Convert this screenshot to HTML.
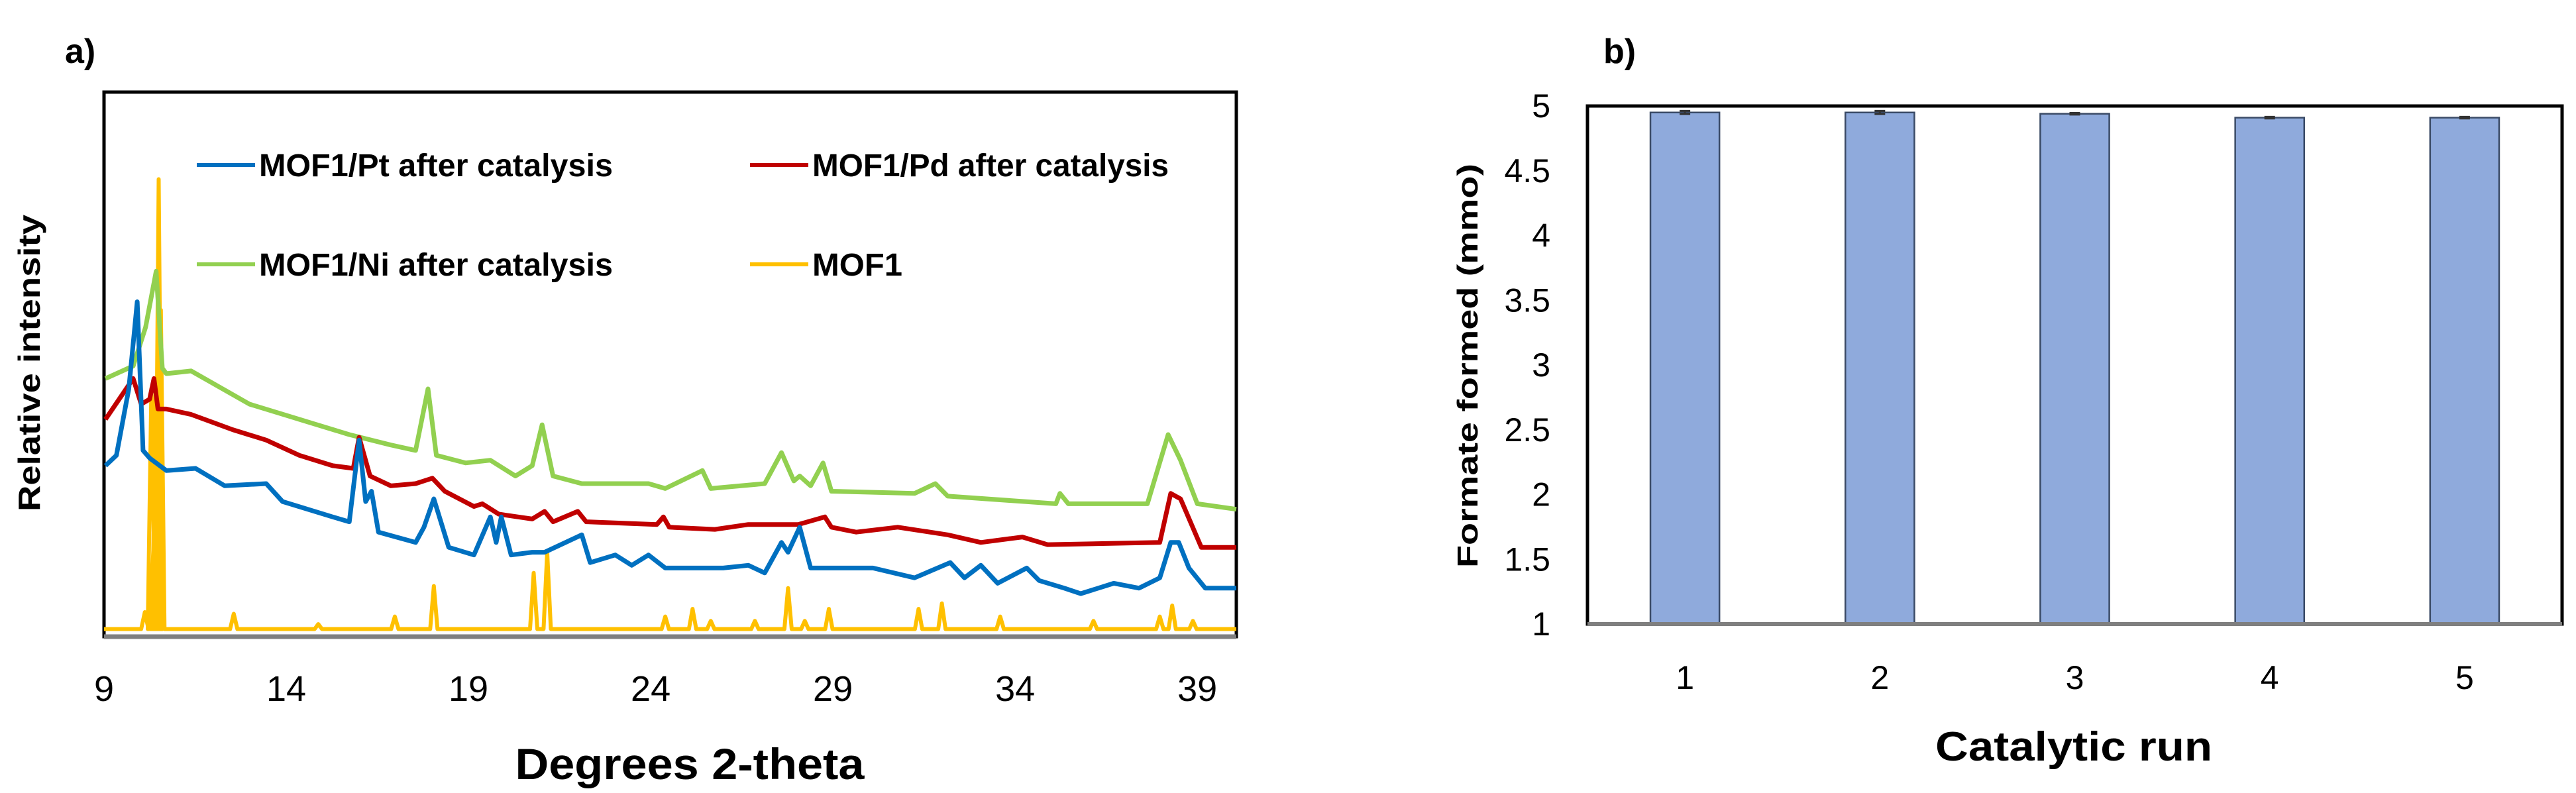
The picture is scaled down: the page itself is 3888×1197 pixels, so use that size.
<!DOCTYPE html>
<html><head><meta charset="utf-8"><style>
html,body{margin:0;padding:0;background:#fff;}
svg{display:block;font-family:"Liberation Sans",sans-serif;}
</style></head><body>
<svg id="fig" width="3888" height="1197" viewBox="0 0 3888 1197" xmlns="http://www.w3.org/2000/svg">
<text x="98" y="95" font-size="52" font-weight="bold">a)</text>
<text x="2420" y="95" font-size="52" font-weight="bold">b)</text>
<g id="chartA"></g>
<g id="chartB"></g>
</svg>
<script>
// ---------- Chart a data ----------
const xTicksA = [9, 14, 19, 24, 29, 34, 39];
const seriesNames = ["MOF1/Pt after catalysis", "MOF1/Pd after catalysis", "MOF1/Ni after catalysis", "MOF1"];
const niX = [9.04,9.8,10.14,10.43,10.6,10.71,11.39,12.99,14.36,15.73,16.87,17.55,17.89,18.12,18.92,19.6,20.29,20.75,21.02,21.32,22.11,23.94,24.4,25.42,25.65,27.13,27.59,27.93,28.09,28.39,28.73,28.96,31.24,31.81,32.15,35.12,35.23,35.46,37.63,38.2,38.54,39,40.07];
const niY = [47.4,49.7,56.8,67.1,49.3,48.3,48.8,42.7,39.9,37.1,35.2,34.2,45.5,33.3,31.9,32.4,29.5,31.4,38.9,29.5,28.1,28.1,27.2,30.5,27.2,28.1,33.8,28.6,29.5,27.7,31.9,26.7,26.3,28.1,25.8,24.4,26.3,24.4,24.4,37.1,32.4,24.4,23.4];
const pdX = [9.04,9.8,10.02,10.25,10.37,10.48,10.71,11.39,12.53,13.45,14.36,15.27,15.84,16.0,16.3,16.87,17.55,18.01,18.35,19.15,19.38,19.83,20.75,21.09,21.32,22.0,22.23,24.17,24.35,24.51,25.76,26.68,27.59,28.05,28.78,28.96,29.64,30.78,32.15,33.06,34.2,34.89,37.97,38.27,38.54,39.11,40.07];
const pdY = [39.9,47.4,42.7,43.6,47.4,41.8,41.8,40.8,38.0,36.1,33.3,31.4,30.9,36.6,29.5,27.7,28.1,29.1,26.7,23.9,24.4,22.5,21.6,23.0,21.1,23.0,21.1,20.6,22.0,20.1,19.7,20.6,20.6,20.6,22.0,20.1,19.2,20.1,18.7,17.3,18.3,16.9,17.3,26.3,25.3,16.4,16.4];
const ptX = [9.04,9.34,9.68,9.91,10.07,10.25,10.71,11.51,12.31,13.45,13.9,15.27,15.73,16.0,16.18,16.34,16.53,17.55,17.78,18.05,18.46,19.15,19.6,19.76,19.9,20.17,20.75,21.09,22.11,22.34,23.03,23.48,23.94,24.4,25.99,26.68,27.13,27.59,27.77,28.09,28.39,30.1,31.24,32.22,32.61,33.06,33.52,34.32,34.66,35.35,35.8,36.71,37.4,37.97,38.27,38.49,38.77,39.22,40.07];
const ptY = [31.4,33.3,45.5,61.5,34.2,32.8,30.5,30.9,27.7,28.1,24.8,22.0,21.1,36.1,24.8,26.7,19.2,17.3,20.1,25.3,16.4,15.0,22.0,17.3,22.0,15.0,15.5,15.5,18.7,13.6,15.0,13.1,15.0,12.6,12.6,13.1,11.7,17.3,15.5,20.1,12.6,12.6,10.8,13.6,10.8,13.1,9.8,12.6,10.3,8.9,7.9,9.8,8.9,10.8,17.3,17.3,12.6,8.9,8.9];
const mofBase = 1.4;
const mofPeakX = [10.12,10.3,10.36,10.42,10.5,10.56,12.56,14.88,16.98,18.05,20.79,21.16,24.4,25.15,25.65,26.86,27.77,28.23,28.89,31.35,31.99,33.59,36.15,37.97,38.31,38.88];
const mofPeakY = [4.5,45.6,17,46,84,60,4.2,2.3,3.7,9.3,11.7,15.5,3.7,5.1,2.9,2.9,8.9,2.9,5.1,5.1,6.1,3.7,2.9,3.7,5.7,2.9];

// ---------- Chart b data ----------
const runs = ["1","2","3","4","5"];
const formate = [4.95,4.95,4.94,4.91,4.91];
const formateErr = [0.012,0.012,0.006,0.006,0.006];
const yTicksB = [1,1.5,2,2.5,3,3.5,4,4.5,5];
const yTickLabelsB = ["1","1.5","2","2.5","3","3.5","4","4.5","5"];

const NS = "http://www.w3.org/2000/svg";
function mk(tag, attrs, parent){const e=document.createElementNS(NS,tag);for(const k in attrs)e.setAttribute(k,attrs[k]);parent.appendChild(e);return e;}

// ---------- Chart a ----------
const A = document.getElementById('chartA');
const aL=157,aR=1866,aT=139,aB=961;
const xMinA=9,xMaxA=40.07;
const sxA = v => aL + (v-xMinA)/(xMaxA-xMinA)*(aR-aL);
const syA = v => aB - v/100*(aB-aT);
const fA = mk('rect',{x:aL,y:aT,width:aR-aL,height:aB-aT,fill:'#fff',stroke:'#000','stroke-width':5},A);


function linePath(xs,ys){return xs.map((x,i)=>(i?'L':'M')+sxA(x).toFixed(1)+','+syA(ys[i]).toFixed(1)).join(' ');}
const colors = {pt:'#0070c0',pd:'#c00000',ni:'#92d050',mof:'#ffc000'};
const mx=[xMinA], my=[mofBase];
mofPeakX.forEach((p,i)=>{mx.push(p-0.1,p,p+0.1);my.push(mofBase,mofPeakY[i],mofBase);});
mx.push(xMaxA);my.push(mofBase);
const pMof = mk('path',{d:linePath(mx,my),fill:'none',stroke:colors.mof,'stroke-width':6,'stroke-linejoin':'round'},A);


const pNi = mk('path',{d:linePath(niX,niY),fill:'none',stroke:colors.ni,'stroke-width':7,'stroke-linejoin':'round'},A);


const pPd = mk('path',{d:linePath(pdX,pdY),fill:'none',stroke:colors.pd,'stroke-width':7,'stroke-linejoin':'round'},A);


const pPt = mk('path',{d:linePath(ptX,ptY),fill:'none',stroke:colors.pt,'stroke-width':7,'stroke-linejoin':'round'},A);


const axA = mk('line',{x1:aL,y1:aB,x2:aR,y2:aB,stroke:'#7f7f7f','stroke-width':7},A);


xTicksA.forEach(t=>{
  const tx = mk('text',{x:sxA(t),y:1058,'font-size':54,'text-anchor':'middle',fill:'#000'},A);
  tx.textContent=t;
  
  
});
const xtA = mk('text',{x:1041,y:1176,'font-size':66,'font-weight':'bold','text-anchor':'middle',textLength:527,lengthAdjust:'spacingAndGlyphs'},A);
xtA.textContent='Degrees 2-theta';


const ytA = mk('text',{x:0,y:0,'font-size':46,'font-weight':'bold','text-anchor':'middle',textLength:448,lengthAdjust:'spacingAndGlyphs',transform:'translate(60,548) rotate(-90)'},A);
ytA.textContent='Relative intensity';


const legPos = [[297,249],[1132,249],[297,399],[1132,399]];
const legCol = [colors.pt,colors.pd,colors.ni,colors.mof];
const legLen = [534,538,534,136];
seriesNames.forEach((n,i)=>{
  const g = mk('g',{},A);
  
  
  mk('line',{x1:legPos[i][0],y1:legPos[i][1],x2:legPos[i][0]+88,y2:legPos[i][1],stroke:legCol[i],'stroke-width':6},g);
  const t = mk('text',{x:legPos[i][0]+94,y:legPos[i][1]+17,'font-size':48,'font-weight':'bold',textLength:legLen[i],lengthAdjust:'spacingAndGlyphs'},g);
  t.textContent=n;
});

// ---------- Chart b ----------
const B = document.getElementById('chartB');
const bL=2396,bR=3867,bT=160,bB=942;
const yMinB=1,yMaxB=5;
const syB = v => bB - (v-yMinB)/(yMaxB-yMinB)*(bB-bT);
const band = (bR-bL)/runs.length;
const sxB = i => bL + band*(i+0.5);
const fB = mk('rect',{x:bL,y:bT,width:bR-bL,height:bB-bT,fill:'#fff',stroke:'#000','stroke-width':5},B);


const bw = band*0.354;
formate.forEach((v,i)=>{
  const r = mk('rect',{x:sxB(i)-bw/2,y:syB(v),width:bw,height:bB-syB(v),fill:'#8faadc',stroke:'#3a4a66','stroke-width':2.5},B);
  
  
  const e = mk('path',{d:`M${sxB(i)-8},${syB(v+formateErr[i])} H${sxB(i)+8} M${sxB(i)},${syB(v+formateErr[i])} V${syB(v-formateErr[i])} M${sxB(i)-8},${syB(v-formateErr[i])} H${sxB(i)+8}`,stroke:'#333','stroke-width':3,fill:'none'},B);
  
  
  const t = mk('text',{x:sxB(i),y:1040,'font-size':50,'text-anchor':'middle'},B);
  t.textContent=runs[i];
  
  
});
const axB = mk('line',{x1:bL,y1:bB,x2:bR,y2:bB,stroke:'#7f7f7f','stroke-width':6},B);


yTicksB.forEach((v,i)=>{
  const t = mk('text',{x:2340,y:syB(v)+17,'font-size':50,'text-anchor':'end'},B);
  t.textContent=yTickLabelsB[i];
  
  
});
const xtB = mk('text',{x:3130,y:1148,'font-size':62,'font-weight':'bold','text-anchor':'middle',textLength:418,lengthAdjust:'spacingAndGlyphs'},B);
xtB.textContent='Catalytic run';


const ytB = mk('text',{x:0,y:0,'font-size':44,'font-weight':'bold','text-anchor':'middle',textLength:610,lengthAdjust:'spacingAndGlyphs',transform:'translate(2230,552) rotate(-90)'},B);
ytB.textContent='Formate formed (mmo)';


</script>
</body></html>
